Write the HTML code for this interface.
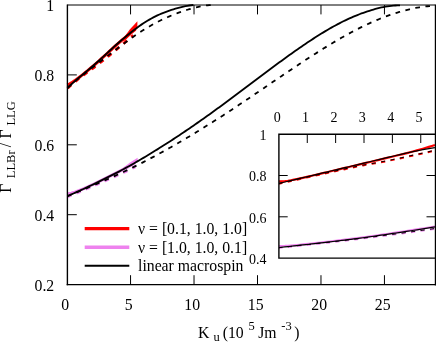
<!DOCTYPE html>
<html><head><meta charset="utf-8"><title>plot</title>
<style>html,body{margin:0;padding:0;background:#fff;}body{width:436px;height:343px;overflow:hidden;position:relative;font-family:"Liberation Serif",serif;}</style>
</head><body>
<svg width="436" height="343" viewBox="0 0 436 343" style="position:absolute;left:0;top:0;will-change:transform;opacity:0.999">
<rect width="436" height="343" fill="#fff"/>
<g fill="none" stroke-linejoin="round">
<path d="M67.40,85.14 L69.40,84.10 L71.40,82.89 L73.40,81.57 L75.40,80.16 L77.40,78.70 L79.40,77.20 L81.40,75.65 L83.40,74.08 L85.40,72.48 L87.40,70.85 L89.40,69.20 L91.40,67.51 L93.40,65.80 L95.40,64.07 L97.40,62.31 L99.40,60.53 L101.40,58.73 L103.40,56.92 L105.40,55.09 L107.40,53.25 L109.40,51.40 L111.40,49.55 L113.40,47.71 L115.40,45.88 L117.40,44.12 L119.40,42.38 L121.40,40.65 L123.40,38.95 L125.40,37.28 L127.40,35.64 L129.40,34.04 L131.40,32.43 L133.40,30.84 L135.40,29.30" stroke="#ff0000" stroke-width="3.0"/>
<path d="M121,41.5 L130,29.3 L137.4,21.2 L137.4,28.5 L125,40.5 Z" fill="#ff0000" stroke="none"/>
<path d="M67.40,88.29 L69.40,86.41 L71.40,84.62 L73.40,82.90 L75.40,81.25 L77.40,79.64 L79.40,78.09 L81.40,76.58 L83.40,75.09 L85.40,73.62 L87.40,72.15 L89.40,70.68 L91.40,69.21 L93.40,67.75 L95.40,66.21 L97.40,64.64 L99.40,63.07 L101.40,61.49 L103.40,59.92 L105.40,58.36 L107.40,56.79 L109.40,55.21 L111.40,53.58 L113.40,51.94 L115.40,50.31 L117.40,48.66 L119.40,46.94 L121.40,45.23 L123.40,43.53 L125.40,41.85 L127.40,40.18 L129.40,38.53 L131.40,36.90 L133.40,35.32" stroke="#ff0000" stroke-width="3.0" stroke-dasharray="4.7 5.5" stroke-dashoffset="-0.3"/>
<path d="M67.40,193.91 L69.40,193.59 L71.40,193.13 L73.40,192.56 L75.40,191.91 L77.40,191.19 L79.40,190.43 L81.40,189.62 L83.40,188.78 L85.40,187.91 L87.40,187.02 L89.40,186.11 L91.40,185.19 L93.40,184.24 L95.40,183.29 L97.40,182.32 L99.40,181.33 L101.40,180.37 L103.40,179.40 L105.40,178.42 L107.40,177.44 L109.40,176.44 L111.40,175.44 L113.40,174.42 L115.40,173.40 L117.40,172.36 L119.40,171.32 L121.40,170.27 L123.40,169.21 L125.40,168.14 L127.40,167.06 L129.40,165.97 L131.40,164.85 L133.40,163.71 L135.40,162.56" stroke="#ee82ee" stroke-width="3.0"/>
<path d="M121,169.5 L130,162.6 L137.6,157.8 L137.6,161 L127,168 Z" fill="#ee82ee" stroke="none"/>
<path d="M67.40,196.71 L69.40,195.88 L71.40,195.05 L73.40,194.23 L75.40,193.40 L77.40,192.57 L79.40,191.74 L81.40,190.90 L83.40,190.06 L85.40,189.22 L87.40,188.37 L89.40,187.52 L91.40,186.67 L93.40,185.80 L95.40,184.93 L97.40,184.06 L99.40,183.18 L101.40,182.31 L103.40,181.45 L105.40,180.58 L107.40,179.71 L109.40,178.83 L111.40,177.94 L113.40,177.04 L115.40,176.14 L117.40,175.23 L119.40,174.32 L121.40,173.40 L123.40,172.47 L125.40,171.53 L127.40,170.59 L129.40,169.64 L131.40,168.66 L133.40,167.67 L135.40,166.67" stroke="#ee82ee" stroke-width="3.0" stroke-dasharray="4.7 5.5" stroke-dashoffset="0.5"/>
<path d="M67.40,88.09 L69.40,86.12 L71.40,84.24 L73.40,82.43 L75.40,80.68 L77.40,78.98 L79.40,77.29 L81.40,75.62 L83.40,73.96 L85.40,72.29 L87.40,70.62 L89.40,68.93 L91.40,67.22 L93.40,65.50 L95.40,63.75 L97.40,61.99 L99.40,60.20 L101.40,58.40 L103.40,56.58 L105.40,54.74 L107.40,52.90 L109.40,51.05 L111.40,49.21 L113.40,47.36 L115.40,45.53 L117.40,43.77 L119.40,42.03 L121.40,40.30 L123.40,38.60 L125.40,36.93 L127.40,35.29 L129.40,33.69 L131.40,32.08 L133.40,30.49 L135.40,28.95 L137.40,27.46 L139.40,26.01 L141.40,24.62 L143.40,23.28 L145.40,22.00 L147.40,20.77 L149.40,19.60 L151.40,18.48 L153.40,17.41 L155.40,16.40 L157.40,15.44 L159.40,14.53 L161.40,13.67 L163.40,12.86 L165.40,12.10 L167.40,11.36 L169.40,10.63 L171.40,9.93 L173.40,9.28 L175.40,8.67 L177.40,8.10 L179.40,7.57 L181.40,7.08 L183.40,6.62 L185.40,6.20 L187.40,5.83 L189.40,5.49 L191.40,5.21 L193.40,5.00" stroke="#000" stroke-width="1.85"/>
<path d="M67.40,196.11 L69.40,195.24 L71.40,194.37 L73.40,193.49 L75.40,192.61 L77.40,191.72 L79.40,190.82 L81.40,189.92 L83.40,189.01 L85.40,188.08 L87.40,187.15 L89.40,186.21 L91.40,185.26 L93.40,184.30 L95.40,183.33 L97.40,182.35 L99.40,181.35 L101.40,180.38 L103.40,179.41 L105.40,178.43 L107.40,177.45 L109.40,176.45 L111.40,175.44 L113.40,174.42 L115.40,173.40 L117.40,172.36 L119.40,171.32 L121.40,170.27 L123.40,169.21 L125.40,168.14 L127.40,167.06 L129.40,165.97 L131.40,164.85 L133.40,163.71 L135.40,162.56 L137.40,161.40 L139.40,160.23 L141.40,159.05 L143.40,157.86 L145.40,156.67 L147.40,155.47 L149.40,154.26 L151.40,153.04 L153.40,151.81 L155.40,150.58 L157.40,149.34 L159.40,148.09 L161.40,146.83 L163.40,145.56 L165.40,144.29 L167.40,143.01 L169.40,141.72 L171.40,140.42 L173.40,139.11 L175.40,137.80 L177.40,136.48 L179.40,135.15 L181.40,133.82 L183.40,132.47 L185.40,131.12 L187.40,129.77 L189.40,128.40 L191.40,127.03 L193.40,125.65 L195.40,124.26 L197.40,122.87 L199.40,121.47 L201.40,120.06 L203.40,118.65 L205.40,117.23 L207.40,115.81 L209.40,114.38 L211.40,112.94 L213.40,111.50 L215.40,110.05 L217.40,108.59 L219.40,107.14 L221.40,105.67 L223.40,104.20 L225.40,102.73 L227.40,101.25 L229.40,99.77 L231.40,98.29 L233.40,96.80 L235.40,95.31 L237.40,93.82 L239.40,92.32 L241.40,90.82 L243.40,89.32 L245.40,87.81 L247.40,86.31 L249.40,84.81 L251.40,83.30 L253.40,81.79 L255.40,80.29 L257.40,78.78 L259.40,77.27 L261.40,75.77 L263.40,74.27 L265.40,72.77 L267.40,71.27 L269.40,69.77 L271.40,68.28 L273.40,66.80 L275.40,65.31 L277.40,63.83 L279.40,62.36 L281.40,60.89 L283.40,59.43 L285.40,57.97 L287.40,56.53 L289.40,55.09 L291.40,53.65 L293.40,52.23 L295.40,50.82 L297.40,49.42 L299.40,48.02 L301.40,46.64 L303.40,45.27 L305.40,43.91 L307.40,42.57 L309.40,41.24 L311.40,39.92 L313.40,38.62 L315.40,37.33 L317.40,36.06 L319.40,34.81 L321.40,33.57 L323.40,32.35 L325.40,31.15 L327.40,29.97 L329.40,28.81 L331.40,27.67 L333.40,26.55 L335.40,25.45 L337.40,24.38 L339.40,23.33 L341.40,22.30 L343.40,21.29 L345.40,20.32 L347.40,19.36 L349.40,18.44 L351.40,17.54 L353.40,16.67 L355.40,15.83 L357.40,15.02 L359.40,14.24 L361.40,13.48 L363.40,12.76 L365.40,12.08 L367.40,11.42 L369.40,10.80 L371.40,10.16 L373.40,9.54 L375.40,8.96 L377.40,8.42 L379.40,7.92 L381.40,7.47 L383.40,7.05 L385.40,6.68 L387.40,6.35 L389.40,6.06 L391.40,5.83 L393.40,5.63 L395.40,5.48 L397.40,5.38 L399.40,5.33 L400.00,5.32" stroke="#000" stroke-width="1.85"/>
<path d="M67.40,88.18 L69.40,86.24 L71.40,84.40 L73.40,82.63 L75.40,80.92 L77.40,79.26 L79.40,77.64 L81.40,76.06 L83.40,74.50 L85.40,72.95 L87.40,71.42 L89.40,69.90 L91.40,68.38 L93.40,66.87 L95.40,65.35 L97.40,63.83 L99.40,62.30 L101.40,60.78 L103.40,59.24 L105.40,57.71 L107.40,56.17 L109.40,54.63 L111.40,53.10 L113.40,51.56 L115.40,50.03 L117.40,48.50 L119.40,46.98 L121.40,45.47 L123.40,43.97 L125.40,42.49 L127.40,41.02 L129.40,39.57 L131.40,38.14 L133.40,36.73 L135.40,35.35 L137.40,33.99 L139.40,32.65 L141.40,31.35 L143.40,30.08 L145.40,28.83 L147.40,27.62 L149.40,26.43 L151.40,25.28 L153.40,24.16 L155.40,23.08 L157.40,22.02 L159.40,21.00 L161.40,20.01 L163.40,19.05 L165.40,18.12 L167.40,17.22 L169.40,16.35 L171.40,15.51 L173.40,14.70 L175.40,13.91 L177.40,13.15 L179.40,12.42 L181.40,11.71 L183.40,11.03 L185.40,10.37 L187.40,9.74 L189.40,9.14 L191.40,8.57 L193.40,8.02 L195.40,7.51 L197.40,7.03 L199.40,6.59 L201.40,6.20 L203.40,5.84 L205.40,5.55 L207.40,5.31 L209.40,5.13 L211.40,5.03 L213.40,5.02 L215.40,5.02" stroke="#000" stroke-width="1.8" stroke-dasharray="4.7 5.5" stroke-dashoffset="-0.3"/>
<path d="M67.40,196.21 L69.40,195.38 L71.40,194.55 L73.40,193.73 L75.40,192.90 L77.40,192.07 L79.40,191.24 L81.40,190.40 L83.40,189.56 L85.40,188.72 L87.40,187.87 L89.40,187.02 L91.40,186.17 L93.40,185.30 L95.40,184.43 L97.40,183.56 L99.40,182.68 L101.40,181.81 L103.40,180.95 L105.40,180.08 L107.40,179.21 L109.40,178.33 L111.40,177.44 L113.40,176.54 L115.40,175.64 L117.40,174.73 L119.40,173.82 L121.40,172.90 L123.40,171.97 L125.40,171.03 L127.40,170.09 L129.40,169.14 L131.40,168.16 L133.40,167.17 L135.40,166.17 L137.40,165.16 L139.40,164.15 L141.40,163.12 L143.40,162.09 L145.40,161.06 L147.40,160.01 L149.40,158.96 L151.40,157.90 L153.40,156.84 L155.40,155.76 L157.40,154.68 L159.40,153.59 L161.40,152.50 L163.40,151.40 L165.40,150.29 L167.40,149.17 L169.40,148.04 L171.40,146.91 L173.40,145.77 L175.40,144.63 L177.40,143.47 L179.40,142.31 L181.40,141.15 L183.40,139.97 L185.40,138.79 L187.40,137.60 L189.40,136.41 L191.40,135.21 L193.40,134.00 L195.40,132.78 L197.40,131.56 L199.40,130.33 L201.40,129.10 L203.40,127.86 L205.40,126.61 L207.40,125.36 L209.40,124.10 L211.40,122.83 L213.40,121.56 L215.40,120.29 L217.40,119.01 L219.40,117.72 L221.40,116.43 L223.40,115.13 L225.40,113.83 L227.40,112.52 L229.40,111.21 L231.40,109.90 L233.40,108.58 L235.40,107.25 L237.40,105.92 L239.40,104.59 L241.40,103.26 L243.40,101.92 L245.40,100.58 L247.40,99.23 L249.40,97.88 L251.40,96.54 L253.40,95.18 L255.40,93.83 L257.40,92.47 L259.40,91.12 L261.40,89.76 L263.40,88.40 L265.40,87.04 L267.40,85.68 L269.40,84.32 L271.40,82.96 L273.40,81.60 L275.40,80.24 L277.40,78.88 L279.40,77.52 L281.40,76.16 L283.40,74.81 L285.40,73.46 L287.40,72.11 L289.40,70.76 L291.40,69.41 L293.40,68.07 L295.40,66.74 L297.40,65.40 L299.40,64.07 L301.40,62.75 L303.40,61.43 L305.40,60.12 L307.40,58.81 L309.40,57.51 L311.40,56.22 L313.40,54.93 L315.40,53.65 L317.40,52.37 L319.40,51.11 L321.40,49.85 L323.40,48.61 L325.40,47.37 L327.40,46.14 L329.40,44.92 L331.40,43.71 L333.40,42.52 L335.40,41.33 L337.40,40.16 L339.40,38.99 L341.40,37.84 L343.40,36.71 L345.40,35.59 L347.40,34.48 L349.40,33.38 L351.40,32.30 L353.40,31.24 L355.40,30.19 L357.40,29.15 L359.40,28.14 L361.40,27.14 L363.40,26.16 L365.40,25.19 L367.40,24.24 L369.40,23.32 L371.40,22.41 L373.40,21.52 L375.40,20.65 L377.40,19.80 L379.40,18.98 L381.40,18.17 L383.40,17.39 L385.40,16.62 L387.40,15.89 L389.40,15.17 L391.40,14.48 L393.40,13.81 L395.40,13.17 L397.40,12.55 L399.40,11.96 L401.40,11.39 L403.40,10.85 L405.40,10.33 L407.40,9.80 L409.40,9.30 L411.40,8.83 L413.40,8.40 L415.40,7.99 L417.40,7.62 L419.40,7.28 L421.40,6.97 L423.40,6.70 L425.40,6.46 L427.40,6.25 L429.40,6.08 L430.00,6.04" stroke="#000" stroke-width="1.8" stroke-dasharray="4.7 5.5" stroke-dashoffset="0.5"/>
</g>
<rect x="278.9" y="134.2" width="156.40000000000003" height="123.90000000000003" fill="#fff"/>
<clipPath id="ic"><rect x="278.9" y="134.2" width="156.40000000000003" height="123.90000000000003"/></clipPath>
<g fill="none" clip-path="url(#ic)" stroke-linejoin="round">
<path d="M278.90,181.47 L281.90,181.38 L284.90,181.11 L287.90,180.72 L290.90,180.23 L293.90,179.68 L296.90,179.08 L299.90,178.45 L302.90,177.80 L305.90,177.12 L308.90,176.44 L311.90,175.75 L314.90,175.05 L317.90,174.34 L320.90,173.64 L323.90,172.93 L326.90,172.22 L329.90,171.50 L332.90,170.79 L335.90,170.08 L338.90,169.36 L341.90,168.65 L344.90,167.93 L347.90,167.22 L350.90,166.50 L353.90,165.79 L356.90,165.07 L359.90,164.36 L362.90,163.64 L365.90,162.92 L368.90,162.21 L371.90,161.49 L374.90,160.78 L377.90,160.06 L380.90,159.35 L383.90,158.63 L386.90,157.92 L389.90,157.20 L392.90,156.48 L395.90,155.77 L398.90,155.05 L401.90,154.33 L404.90,153.59 L407.90,152.83 L410.90,152.05 L413.90,151.24 L416.90,150.41 L419.90,149.57 L422.90,148.69 L425.90,147.80 L428.90,146.89 L431.90,145.95 L434.90,144.99" stroke="#ff0000" stroke-width="2.2"/>
<path d="M278.90,183.82 L281.90,183.11 L284.90,182.42 L287.90,181.73 L290.90,181.05 L293.90,180.38 L296.90,179.71 L299.90,179.04 L302.90,178.38 L305.90,177.72 L308.90,177.05 L311.90,176.38 L314.90,175.72 L317.90,175.06 L320.90,174.40 L323.90,173.74 L326.90,173.09 L329.90,172.43 L332.90,171.78 L335.90,171.13 L338.90,170.47 L341.90,169.82 L344.90,169.16 L347.90,168.51 L350.90,167.88 L353.90,167.25 L356.90,166.63 L359.90,166.03 L362.90,165.44 L365.90,164.87 L368.90,164.35 L371.90,163.85 L374.90,163.34 L377.90,162.81 L380.90,162.24 L383.90,161.67 L386.90,161.08 L389.90,160.48 L392.90,159.86 L395.90,159.24 L398.90,158.61 L401.90,157.97 L404.90,157.30 L407.90,156.62 L410.90,155.95 L413.90,155.30 L416.90,154.66 L419.90,154.03 L422.90,153.38 L425.90,152.69 L428.90,151.97 L431.90,151.27 L434.90,150.61" stroke="#ff0000" stroke-width="2.0" stroke-dasharray="4.2 5.35" stroke-dashoffset="0.6"/>
<path d="M278.90,246.02 L281.90,246.03 L284.90,245.95 L287.90,245.79 L290.90,245.57 L293.90,245.32 L296.90,245.04 L299.90,244.74 L302.90,244.45 L305.90,244.15 L308.90,243.84 L311.90,243.52 L314.90,243.19 L317.90,242.86 L320.90,242.52 L323.90,242.18 L326.90,241.83 L329.90,241.49 L332.90,241.13 L335.90,240.78 L338.90,240.42 L341.90,240.05 L344.90,239.69 L347.90,239.32 L350.90,238.95 L353.90,238.57 L356.90,238.19 L359.90,237.81 L362.90,237.40 L365.90,236.98 L368.90,236.56 L371.90,236.14 L374.90,235.72 L377.90,235.29 L380.90,234.86 L383.90,234.42 L386.90,233.98 L389.90,233.54 L392.90,233.10 L395.90,232.65 L398.90,232.20 L401.90,231.75 L404.90,231.29 L407.90,230.83 L410.90,230.37 L413.90,229.90 L416.90,229.44 L419.90,228.96 L422.90,228.49 L425.90,228.01 L428.90,227.53 L431.90,227.04 L434.90,226.56" stroke="#ee82ee" stroke-width="2.2"/>
<path d="M278.90,247.92 L281.90,247.62 L284.90,247.31 L287.90,247.00 L290.90,246.68 L293.90,246.37 L296.90,246.05 L299.90,245.73 L302.90,245.41 L305.90,245.08 L308.90,244.76 L311.90,244.43 L314.90,244.09 L317.90,243.76 L320.90,243.42 L323.90,243.08 L326.90,242.74 L329.90,242.39 L332.90,242.05 L335.90,241.70 L338.90,241.35 L341.90,240.99 L344.90,240.64 L347.90,240.28 L350.90,239.92 L353.90,239.55 L356.90,239.18 L359.90,238.82 L362.90,238.44 L365.90,238.07 L368.90,237.70 L371.90,237.32 L374.90,236.94 L377.90,236.55 L380.90,236.17 L383.90,235.78 L386.90,235.39 L389.90,234.99 L392.90,234.60 L395.90,234.20 L398.90,233.80 L401.90,233.40 L404.90,232.99 L407.90,232.59 L410.90,232.18 L413.90,231.76 L416.90,231.35 L419.90,230.93 L422.90,230.51 L425.90,230.09 L428.90,229.66 L431.90,229.24 L434.90,228.81" stroke="#ee82ee" stroke-width="2.0" stroke-dasharray="4.2 5.35" stroke-dashoffset="0.6"/>
<path d="M278.90,183.42 L281.90,182.71 L284.90,181.99 L287.90,181.28 L290.90,180.56 L293.90,179.85 L296.90,179.13 L299.90,178.42 L302.90,177.70 L305.90,176.98 L308.90,176.27 L311.90,175.55 L314.90,174.84 L317.90,174.12 L320.90,173.41 L323.90,172.69 L326.90,171.98 L329.90,171.26 L332.90,170.54 L335.90,169.83 L338.90,169.11 L341.90,168.40 L344.90,167.68 L347.90,166.97 L350.90,166.25 L353.90,165.54 L356.90,164.82 L359.90,164.11 L362.90,163.39 L365.90,162.67 L368.90,161.96 L371.90,161.24 L374.90,160.53 L377.90,159.81 L380.90,159.10 L383.90,158.38 L386.90,157.67 L389.90,156.95 L392.90,156.23 L395.90,155.52 L398.90,154.80 L401.90,154.09 L404.90,153.40 L407.90,152.73 L410.90,152.07 L413.90,151.44 L416.90,150.82 L419.90,150.23 L422.90,149.66 L425.90,149.10 L428.90,148.57 L431.90,148.05 L434.90,147.56" stroke="#000" stroke-width="1.2"/>
<path d="M278.90,247.57 L281.90,247.24 L284.90,246.91 L287.90,246.58 L290.90,246.24 L293.90,245.90 L296.90,245.56 L299.90,245.21 L302.90,244.88 L305.90,244.56 L308.90,244.23 L311.90,243.90 L314.90,243.56 L317.90,243.22 L320.90,242.88 L323.90,242.54 L326.90,242.19 L329.90,241.84 L332.90,241.49 L335.90,241.13 L338.90,240.77 L341.90,240.40 L344.90,240.04 L347.90,239.67 L350.90,239.30 L353.90,238.92 L356.90,238.54 L359.90,238.16 L362.90,237.75 L365.90,237.33 L368.90,236.91 L371.90,236.49 L374.90,236.07 L377.90,235.64 L380.90,235.21 L383.90,234.77 L386.90,234.33 L389.90,233.89 L392.90,233.45 L395.90,233.00 L398.90,232.55 L401.90,232.10 L404.90,231.64 L407.90,231.18 L410.90,230.72 L413.90,230.25 L416.90,229.79 L419.90,229.31 L422.90,228.84 L425.90,228.36 L428.90,227.88 L431.90,227.39 L434.90,226.91" stroke="#000" stroke-width="1.2"/>
<path d="M278.90,183.52 L281.90,182.81 L284.90,182.12 L287.90,181.43 L290.90,180.75 L293.90,180.08 L296.90,179.41 L299.90,178.74 L302.90,178.08 L305.90,177.42 L308.90,176.75 L311.90,176.08 L314.90,175.42 L317.90,174.76 L320.90,174.10 L323.90,173.44 L326.90,172.79 L329.90,172.13 L332.90,171.48 L335.90,170.83 L338.90,170.17 L341.90,169.52 L344.90,168.86 L347.90,168.21 L350.90,167.58 L353.90,166.95 L356.90,166.33 L359.90,165.73 L362.90,165.14 L365.90,164.57 L368.90,164.05 L371.90,163.55 L374.90,163.04 L377.90,162.51 L380.90,161.94 L383.90,161.37 L386.90,160.78 L389.90,160.18 L392.90,159.56 L395.90,158.94 L398.90,158.31 L401.90,157.67 L404.90,157.00 L407.90,156.32 L410.90,155.65 L413.90,155.00 L416.90,154.36 L419.90,153.73 L422.90,153.08 L425.90,152.39 L428.90,151.67 L431.90,150.97 L434.90,150.31" stroke="#000" stroke-width="1.0" stroke-dasharray="4.2 5.35" stroke-dashoffset="0.6"/>
<path d="M278.90,247.62 L281.90,247.32 L284.90,247.01 L287.90,246.70 L290.90,246.38 L293.90,246.07 L296.90,245.75 L299.90,245.43 L302.90,245.11 L305.90,244.78 L308.90,244.46 L311.90,244.13 L314.90,243.79 L317.90,243.46 L320.90,243.12 L323.90,242.78 L326.90,242.44 L329.90,242.09 L332.90,241.75 L335.90,241.40 L338.90,241.05 L341.90,240.69 L344.90,240.34 L347.90,239.98 L350.90,239.62 L353.90,239.25 L356.90,238.88 L359.90,238.52 L362.90,238.14 L365.90,237.77 L368.90,237.40 L371.90,237.02 L374.90,236.64 L377.90,236.25 L380.90,235.87 L383.90,235.48 L386.90,235.09 L389.90,234.69 L392.90,234.30 L395.90,233.90 L398.90,233.50 L401.90,233.10 L404.90,232.69 L407.90,232.29 L410.90,231.88 L413.90,231.46 L416.90,231.05 L419.90,230.63 L422.90,230.21 L425.90,229.79 L428.90,229.36 L431.90,228.94 L434.90,228.51" stroke="#000" stroke-width="1.0" stroke-dasharray="4.2 5.35" stroke-dashoffset="0.6"/>
</g>
<g fill="none" stroke="#000" stroke-width="1">
<path d="M67.4,285.20000000000005 V4.5" stroke-width="1.38"/>
<path d="M67.4,5.0 H435.3" stroke-width="1.0" stroke="#000"/>
<path d="M66.7,284.6 H435.3" stroke-width="1.3"/>
<path d="M435.45,4.5 V285.40000000000003" stroke-width="1.3"/>
<path d="M130.56,284.6 V275.20000000000005 M130.56,5.0 V14.4"/>
<path d="M194.03,284.6 V275.20000000000005 M194.03,5.0 V14.4"/>
<path d="M257.50,284.6 V275.20000000000005 M257.50,5.0 V14.4"/>
<path d="M320.98,284.6 V275.20000000000005 M320.98,5.0 V14.4"/>
<path d="M384.45,284.6 V275.20000000000005 M384.45,5.0 V14.4"/>
<path d="M67.4,214.70 H76.80000000000001"/>
<path d="M67.4,144.80 H76.80000000000001"/>
<path d="M67.4,74.90 H76.80000000000001"/>
<path d="M435.3,134.2 H278.9 V258.1 H435.3" stroke-width="1.4" stroke-linejoin="miter"/>
<path d="M307.27,134.2 V143.0"/>
<path d="M335.64,134.2 V143.0"/>
<path d="M364.01,134.2 V143.0"/>
<path d="M392.38,134.2 V143.0"/>
<path d="M420.75,134.2 V143.0"/>
<path d="M278.9,216.80 H287.7 M435.3,216.80 H426.5"/>
<path d="M278.9,175.50 H287.7 M435.3,175.50 H426.5"/>
</g>
<path d="M84.7,228.6 H129.3" stroke="#ff0000" stroke-width="3.4"/>
<path d="M84.7,247.2 H129.3" stroke="#ee82ee" stroke-width="3.4"/>
<path d="M84.7,265.8 H129.3" stroke="#000" stroke-width="2"/>
<g font-family="Liberation Serif, serif" font-size="15.75px" fill="#000">
<text x="54.2" y="11.10" text-anchor="end">1</text>
<text x="54.2" y="81.00" text-anchor="end">0.8</text>
<text x="54.2" y="150.90" text-anchor="end">0.6</text>
<text x="54.2" y="220.80" text-anchor="end">0.4</text>
<text x="54.2" y="290.70" text-anchor="end">0.2</text>
<text x="65.28" y="310.0" text-anchor="middle">0</text>
<text x="128.75" y="310.0" text-anchor="middle">5</text>
<text x="192.23" y="310.0" text-anchor="middle">10</text>
<text x="255.70" y="310.0" text-anchor="middle">15</text>
<text x="319.18" y="310.0" text-anchor="middle">20</text>
<text x="382.65" y="310.0" text-anchor="middle">25</text>
<text x="138" y="234.0">ν = [0.1, 1.0, 1.0]</text>
<text x="138" y="252.6">ν = [1.0, 1.0, 0.1]</text>
<text x="138" y="271.2">linear macrospin</text>
<text x="197.9" y="337.7">K</text>
<text x="213.4" y="341.4" font-size="12.5px">u</text>
<text x="222.7" y="337.7">(10</text>
<text x="248.4" y="330.3" font-size="12.5px">5</text>
<text x="258.2" y="337.7">Jm</text>
<text x="281.3" y="330.3" font-size="12.5px">-3</text>
<text x="294.2" y="337.7">)</text>
<g transform="translate(11.0,192.7) rotate(-90)">
<text x="0" y="0">Γ</text>
<text x="14.5" y="3.7" font-size="12.5px">LLBr</text>
<text x="45.5" y="0">/</text>
<text x="54.3" y="0">Γ</text>
<text x="67.2" y="3.7" font-size="12.5px">LLG</text>
</g>
</g>
<g font-family="Liberation Serif, serif" font-size="14.0px" fill="#000">
<text x="277.20" y="121.9" text-anchor="middle">0</text>
<text x="305.57" y="121.9" text-anchor="middle">1</text>
<text x="333.94" y="121.9" text-anchor="middle">2</text>
<text x="362.31" y="121.9" text-anchor="middle">3</text>
<text x="390.68" y="121.9" text-anchor="middle">4</text>
<text x="419.05" y="121.9" text-anchor="middle">5</text>
<text x="266.6" y="139.90" text-anchor="end">1</text>
<text x="266.6" y="181.20" text-anchor="end">0.8</text>
<text x="266.6" y="222.50" text-anchor="end">0.6</text>
<text x="266.6" y="263.80" text-anchor="end">0.4</text>
</g>
</svg>
</body></html>
